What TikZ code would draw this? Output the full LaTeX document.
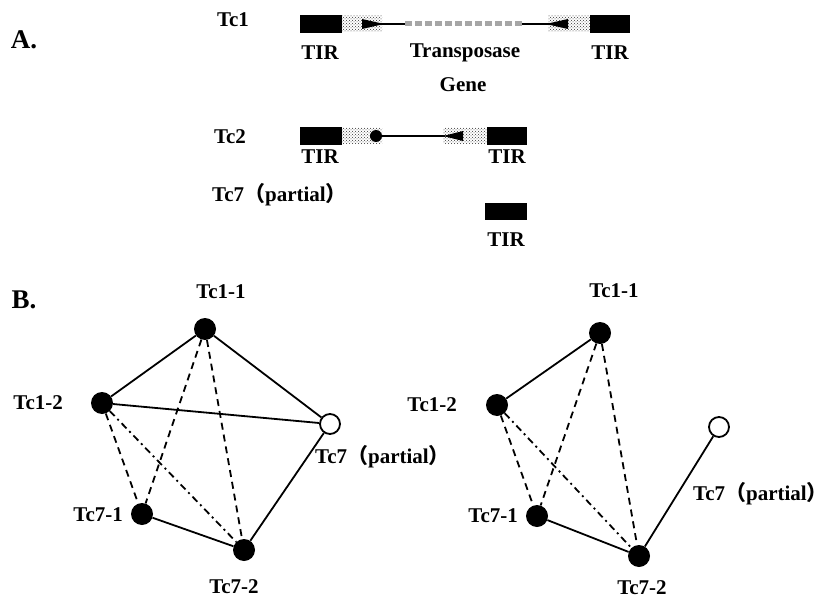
\documentclass[tikz,border=0pt]{standalone}
\usepackage{fontspec}
\setmainfont{Liberation Serif}
\newfontfamily\cjk{Noto Sans CJK SC}
\usetikzlibrary{patterns}
\begin{document}
\begin{tikzpicture}[x=1pt,y=-1pt,
  lbl/.style={font=\bfseries\fontsize{21}{21}\selectfont, inner sep=0pt},
  big/.style={font=\bfseries\fontsize{27}{27}\selectfont, inner sep=0pt},
  fdot/.style={circle, fill=black, minimum size=22pt, inner sep=0pt},
  odot/.style={circle, draw=black, line width=1.8pt, fill=white, minimum size=20pt, inner sep=0pt},
  edge/.style={line width=1.8pt},
  dsh/.style={line width=1.8pt, dash pattern=on 7pt off 5pt},
  dshdot/.style={line width=1.8pt, dash pattern=on 7pt off 4pt on 2pt off 4pt},
  grayseg/.style={pattern=crosshatch dots, pattern color=black!80},
  gline/.style={line width=1.6pt},
]
\useasboundingbox (0,0) rectangle (835,604);
\fill[white] (0,0) rectangle (835,604);

% ---------- Part A ----------
\node[big] (A) at (24,40) {A.};

% Tc1
\draw[gline] (380,24) -- (405,24);
\draw[gline] (522,24) -- (550,24);
\draw[line width=5pt, black!35, dash pattern=on 7pt off 3pt] (405,24) -- (522,24);
\fill[grayseg] (342,16) rectangle (382,32);
\fill (362,19) -- (384,24) -- (362,29) -- cycle;
\fill (300,15) rectangle (342,33);
\fill[grayseg] (548,16) rectangle (590,32);
\fill (568,19) -- (546,24) -- (568,29) -- cycle;
\fill (590,15) rectangle (630,33);

\node[lbl] (tc1) at (233,20) {Tc1};
\node[lbl] (tir1a) at (320,53) {TIR};
\node[lbl] (tpase) at (465,53) {Transposase};
\node[lbl] (gene) at (463,85) {Gene};
\node[lbl] (tir1b) at (610,53) {TIR};

% Tc2
\draw[gline] (380,136) -- (445,136);
\fill[grayseg] (342,128) rectangle (382,144);
\fill (376,136) circle (6);
\fill (300,127) rectangle (342,145);
\fill[grayseg] (443,128) rectangle (487,144);
\fill (463,131) -- (443,136) -- (463,141) -- cycle;
\fill (487,127) rectangle (527,145);

\node[lbl] (tc2) at (230,137) {Tc2};
\node[lbl] (tir2a) at (320,157) {TIR};
\node[lbl] (tir2b) at (507,157) {TIR};

% Tc7 (partial)
\fill (485,203) rectangle (527,220);
\node[lbl, anchor=west] (tc7) at (212,195) {Tc7{\cjk （}partial{\cjk ）}};
\node[lbl] (tir7) at (506,240) {TIR};

% ---------- Part B ----------
\node[big] (B) at (24,300) {B.};

% left graph
\node[fdot] (l11) at (205,329) {};
\node[fdot] (l12) at (102,403) {};
\node[odot] (l7p) at (330,424) {};
\node[fdot] (l71) at (142,514) {};
\node[fdot] (l72) at (244,550) {};

\node[lbl] (l11t) at (221,292) {Tc1-1};
\node[lbl, anchor=east] (l12t) at (63,403) {Tc1-2};
\node[lbl, anchor=west] (l7pt) at (315,457) {Tc7{\cjk （}partial{\cjk ）}};
\node[lbl, anchor=east] (l71t) at (123,515) {Tc7-1};
\node[lbl] (l72t) at (234,587) {Tc7-2};

\draw[edge] (l11) -- (l12);
\draw[edge] (l11) -- (l7p);
\draw[edge] (l12) -- (l7p);
\draw[edge] (l7p) -- (l72);
\draw[edge] (l71) -- (l72);
\draw[dsh] (l11) -- (l71);
\draw[dsh] (l11) -- (l72);
\draw[dsh] (l12) -- (l71);
\draw[dshdot] (l12) -- (l72);

% right graph
\node[fdot] (r11) at (600,333) {};
\node[fdot] (r12) at (497,405) {};
\node[odot] (r7p) at (719,427) {};
\node[fdot] (r71) at (537,516) {};
\node[fdot] (r72) at (639,556) {};

\node[lbl] (r11t) at (614,291) {Tc1-1};
\node[lbl, anchor=east] (r12t) at (457,405) {Tc1-2};
\node[lbl, anchor=west] (r7pt) at (693,494) {Tc7{\cjk （}partial{\cjk ）}};
\node[lbl, anchor=east] (r71t) at (518,516) {Tc7-1};
\node[lbl] (r72t) at (642,588) {Tc7-2};

\draw[edge] (r11) -- (r12);
\draw[edge] (r7p) -- (r72);
\draw[edge] (r71) -- (r72);
\draw[dsh] (r11) -- (r71);
\draw[dsh] (r11) -- (r72);
\draw[dsh] (r12) -- (r71);
\draw[dshdot] (r12) -- (r72);
\end{tikzpicture}
\end{document}
